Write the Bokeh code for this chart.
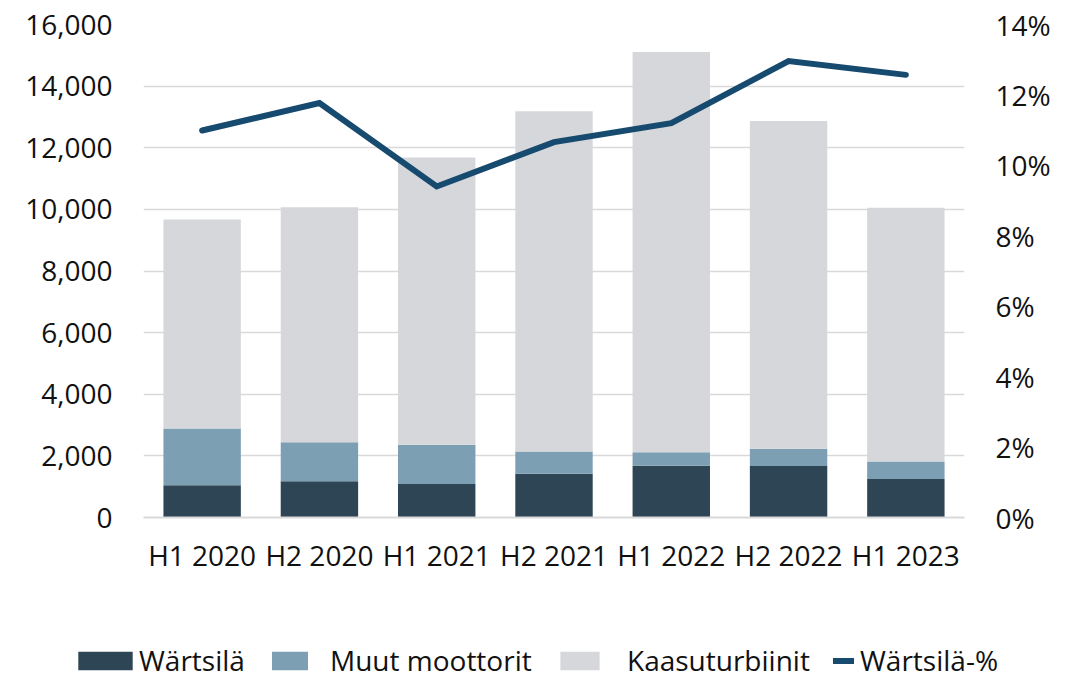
from bokeh.plotting import figure
from bokeh.layouts import column
from bokeh.models import (FactorRange, Range1d, LinearAxis, FixedTicker,
                          NumeralTickFormatter, Legend, LegendItem)
from bokeh.embed import file_html
from bokeh.resources import INLINE

categories = ["H1 2020", "H2 2020", "H1 2021", "H2 2021", "H1 2022", "H2 2022", "H1 2023"]
wartsila = [1050, 1180, 1090, 1420, 1680, 1670, 1250]
muut = [1840, 1265, 1270, 725, 440, 560, 570]
kaasu = [6785, 7620, 9320, 11040, 12990, 10640, 8230]
wartsila_pct = [0.1099, 0.1177, 0.0940, 0.1066, 0.1120, 0.1296, 0.1257]

series_names = ["Wärtsilä", "Muut moottorit", "Kaasuturbiinit"]
line_name = "Wärtsilä-%"
left_ticks = [0, 2000, 4000, 6000, 8000, 10000, 12000, 14000, 16000]
right_ticks = [0, 0.02, 0.04, 0.06, 0.08, 0.10, 0.12, 0.14]

colors = ["#2E4555", "#7C9FB4", "#D6D7DB"]
line_color = "#164A6E"
grid_color = "#D9D9D9"
text_color = "#111111"
font = "Open Sans"

data = dict(cat=categories, w=wartsila, m=muut, k=kaasu, pct=wartsila_pct)

W = 1072
p = figure(x_range=FactorRange(factors=categories, range_padding=0),
           y_range=Range1d(0, 16000),
           width=W, height=615, output_backend="svg", toolbar_location=None,
           min_border_left=143, min_border_right=108, min_border_top=24,
           min_border_bottom=98)
p.frame_align = False
p.outline_line_color = None
p.extra_y_ranges = {"pct": Range1d(0, 0.14)}

bars = p.vbar_stack(["w", "m", "k"], x="cat", width=0.66, source=data,
                    color=colors, line_color=None)
ln = p.line(x="cat", y="pct", source=data, y_range_name="pct",
            line_width=6, line_color=line_color, line_cap="round", line_join="miter")

p.xgrid.grid_line_color = None
p.ygrid.grid_line_color = grid_color
p.ygrid.grid_line_width = 1.5
p.yaxis.ticker = FixedTicker(ticks=left_ticks)
p.yaxis.formatter = NumeralTickFormatter(format="0,0")

ra = LinearAxis(y_range_name="pct", ticker=FixedTicker(ticks=right_ticks),
                formatter=NumeralTickFormatter(format="0%"))
p.add_layout(ra, "right")

for ax in list(p.yaxis):
    ax.axis_line_color = None
    ax.major_tick_line_color = None
    ax.minor_tick_line_color = None
    ax.major_tick_out = 0
    ax.major_label_standoff = 31
    ax.major_label_text_font = font
    ax.major_label_text_font_size = "28px"
    ax.major_label_text_color = text_color

xa = p.xaxis[0]
xa.axis_line_color = grid_color
xa.axis_line_width = 2
xa.major_tick_line_color = None
xa.minor_tick_line_color = None
xa.major_tick_out = 0
xa.major_label_standoff = 18
xa.major_label_text_font = font
xa.major_label_text_font_size = "28px"
xa.major_label_text_color = text_color

# legend strip below the chart: the series are added again as hidden
# renderers, so that the legend has renderers with data for its swatches
lp = figure(width=W, height=60, output_backend="svg", toolbar_location=None,
            x_axis_type=None, y_axis_type=None,
            x_range=FactorRange(factors=categories, range_padding=0),
            y_range=Range1d(0, 16000),
            min_border_left=0, min_border_right=0, min_border_top=0, min_border_bottom=0)
lp.frame_align = False
lp.outline_line_color = None
lp.grid.grid_line_color = None
lbars = lp.vbar_stack(["w", "m", "k"], x="cat", width=0.66, source=data,
                      color=colors, line_color=None)
lline = lp.line(x="cat", y="pct", source=data, line_color=line_color,
                line_width=6, line_cap="round")
for r in list(lbars) + [lline]:
    r.visible = False

legend_specs = [
    (series_names[0], lbars[0], 71, 68, -4),
    (series_names[1], lbars[1], 267, 45, 18),
    (series_names[2], lbars[2], 555, 49, 23),
    (line_name, lline, 833, 21, 6),
]
for label, rend, vx, gw, so in legend_specs:
    lg = Legend(items=[LegendItem(label=label, renderers=[rend])],
                location=(vx, -4), padding=0, margin=0,
                border_line_color=None, background_fill_alpha=0,
                inactive_fill_alpha=0,
                glyph_width=gw, glyph_height=23, label_standoff=so,
                label_text_font=font, label_text_font_size="28px",
                label_text_line_height=1.0,
                label_text_color=text_color)
    lp.add_layout(lg, "center")

layout = column(p, lp, spacing=0)
open("out.html", "w").write(file_html(layout, INLINE))
